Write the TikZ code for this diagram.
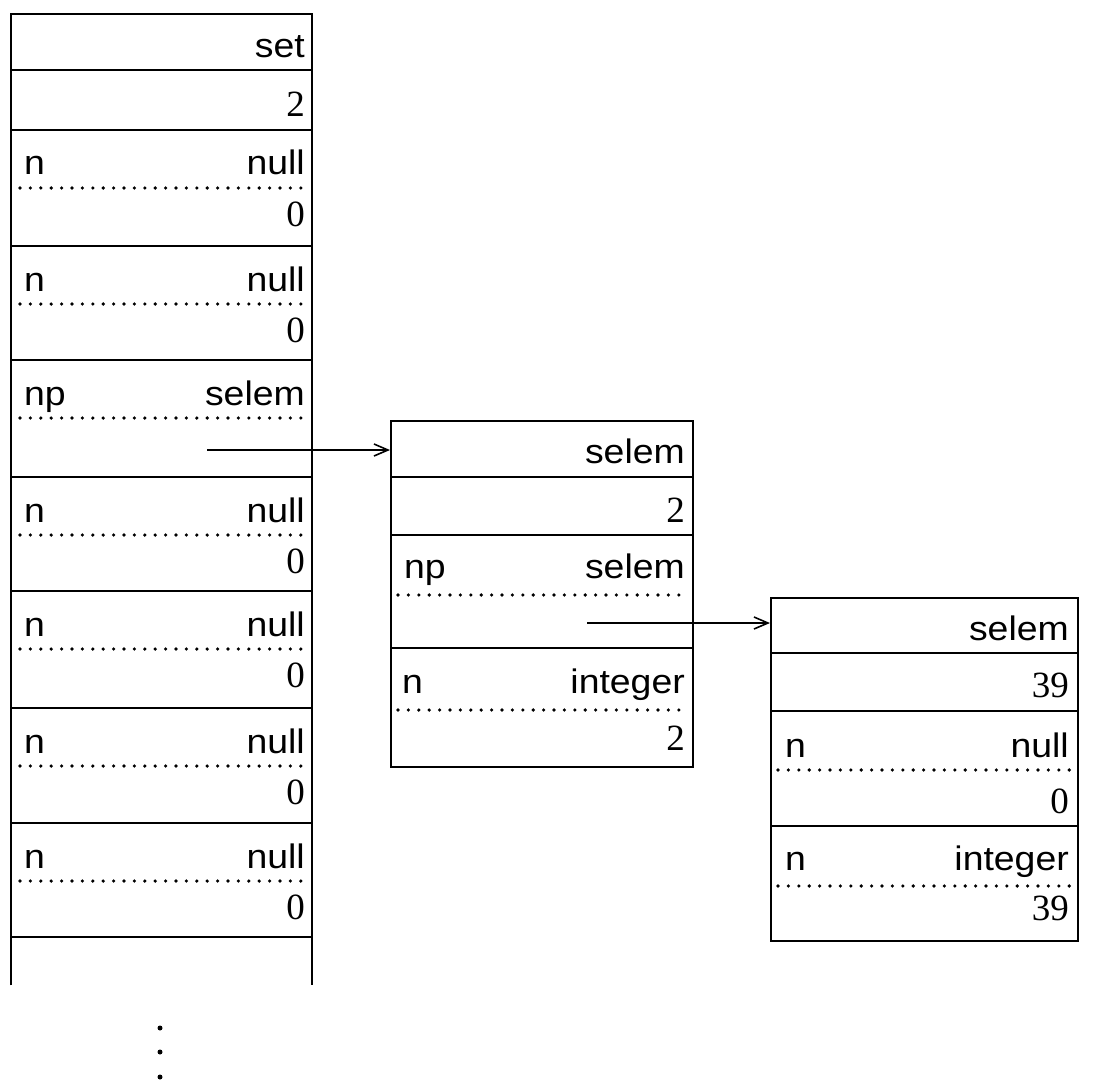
\documentclass[tikz,border=0pt]{standalone}
\usepackage{fontspec}
\setmainfont{Liberation Serif}
\newfontfamily\labfont[FakeStretch=1.1]{Liberation Sans}
\usetikzlibrary{arrows.meta}
\tikzset{
  boxline/.style={line width=2pt},
  dotrow/.style={line width=3.6pt, line cap=round, dash pattern=on 0pt off 10.4pt},
  lbl/.style={inner sep=0pt, font=\labfont\fontsize{34pt}{40pt}\selectfont},
  num/.style={inner sep=0pt, font=\fontsize{37pt}{42pt}\selectfont},
  ptr/.style={line width=1.4pt, -{Straight Barb[length=14pt,width=12pt,line width=1.6pt]}},
  dotmark/.style={circle, fill, inner sep=0pt, minimum size=5pt}
}
\begin{document}
\begin{tikzpicture}[x=1pt,y=-1pt]
\useasboundingbox[fill=white] (0,0) rectangle (1096,1089);

% ---------- left column (set) ----------
\node[anchor=north west, minimum width=301pt, minimum height=971pt, inner sep=0pt] (setcol) at (11,14) {};
\draw[boxline] (setcol.south west) -- (setcol.north west) -- (setcol.north east) -- (setcol.south east);
\draw[boxline] (11,70) -- (312,70);
\node[lbl, anchor=base east] (lset) at (305,58) {set};
\node[num, anchor=base east] (lcount) at (305,117) {2};
\foreach \T/\a/\b/\v [count=\i] in {130/n/null/0, 246/n/null/0, 360/np/selem/, 477/n/null/0, 591/n/null/0, 708/n/null/0, 823/n/null/0}{
  \draw[boxline] (11,\T) -- (312,\T);
  \draw[dotrow] (20,\T+58) -- (306,\T+58);
  \node[lbl, anchor=base west] (la\i) at (24,\T+45) {\a};
  \node[lbl, anchor=base east] (lb\i) at (305,\T+45) {\b};
  \node[num, anchor=base east] (lv\i) at (305,\T+96) {\v};
}
\draw[boxline] (11,937) -- (312,937);
\node[dotmark] (d1) at (160,1028) {};
\node[dotmark] (d2) at (160,1052) {};
\node[dotmark] (d3) at (160,1077) {};

% ---------- middle box ----------
\node[draw, boxline, anchor=north west, minimum width=302pt, minimum height=346pt, inner sep=0pt] (mid) at (390,420) {};
\draw[boxline] (390,477) -- (692,477);
\draw[boxline] (390,535) -- (692,535);
\draw[boxline] (390,648) -- (692,648);
\draw[dotrow] (398,595) -- (686,595);
\draw[dotrow] (398,710) -- (686,710);
\node[lbl, anchor=base east] (mt1) at (685,463) {selem};
\node[num, anchor=base east] (mt2) at (685,522) {2};
\node[lbl, anchor=base west] (mt3) at (404,578) {np};
\node[lbl, anchor=base east] (mt4) at (685,578) {selem};
\node[lbl, anchor=base west] (mt5) at (402,693) {n};
\node[lbl, anchor=base east] (mt6) at (685,693) {integer};
\node[num, anchor=base east] (mt7) at (685,750) {2};

% ---------- right box ----------
\node[draw, boxline, anchor=north west, minimum width=307pt, minimum height=343pt, inner sep=0pt] (rbox) at (770,597) {};
\draw[boxline] (770,653) -- (1077,653);
\draw[boxline] (770,711) -- (1077,711);
\draw[boxline] (770,826) -- (1077,826);
\draw[dotrow] (778,770) -- (1070,770);
\draw[dotrow] (778,886) -- (1070,886);
\node[lbl, anchor=base east] (rt1) at (1069,640) {selem};
\node[num, anchor=base east] (rt2) at (1069,697) {39};
\node[lbl, anchor=base west] (rt3) at (785,757) {n};
\node[lbl, anchor=base east] (rt4) at (1069,757) {null};
\node[num, anchor=base east] (rt5) at (1069,813) {0};
\node[lbl, anchor=base west] (rt6) at (785,870) {n};
\node[lbl, anchor=base east] (rt7) at (1069,870) {integer};
\node[num, anchor=base east] (rt8) at (1069,920) {39};

% ---------- pointers ----------
\coordinate (p1) at (207,450);
\draw[ptr] (p1) -- (p1 -| mid.west);
\coordinate (p2) at (587,623);
\draw[ptr] (p2) -- (p2 -| rbox.west);
\end{tikzpicture}
\end{document}
